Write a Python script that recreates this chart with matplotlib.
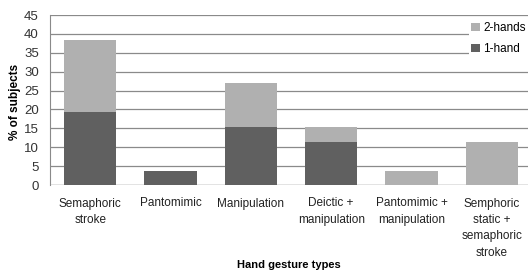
import matplotlib
matplotlib.use("Agg")
import matplotlib.pyplot as plt
import numpy as np

categories = ["Semaphoric\nstroke", "Pantomimic", "Manipulation", "Deictic +\nmanipulation",
              "Pantomimic +\nmanipulation", "Semphoric\nstatic +\nsemaphoric\nstroke"]
one_hand = [19.2, 3.8, 15.4, 11.5, 0.0, 0.0]
two_hands = [19.3, 0.0, 11.5, 3.9, 3.8, 11.5]
yticks = [0, 5, 10, 15, 20, 25, 30, 35, 40, 45]

plt.rcParams['font.family'] = ['Liberation Sans', 'DejaVu Sans']

fig = plt.figure(figsize=(5.28, 2.72), dpi=100)
ax = fig.add_axes([50/528, 1 - 185/272, 478/528, 170/272])

x = np.arange(len(categories))
w = 0.65
ax.bar(x, one_hand, w, color='#606060', label='1-hand', zorder=3)
ax.bar(x, two_hands, w, bottom=one_hand, color='#b0b0b0', label='2-hands', zorder=3)

ax.set_xlim(-0.5, 5.45)
ax.set_ylim(0, 45)
ax.set_yticks(yticks)
ax.yaxis.grid(True, color='#8a8a8a', linewidth=0.9, zorder=0)
ax.set_axisbelow(True)
for s in ['top', 'right', 'bottom']:
    ax.spines[s].set_visible(False)
ax.spines['left'].set_color('#8a8a8a')
ax.tick_params(axis='y', length=0, labelsize=9.5, colors='#333333', pad=8)
ax.tick_params(axis='x', length=0, labelsize=8.5, colors='#222222', pad=9)
ax.set_xticks(x)
ax.set_xticklabels(categories, linespacing=1.5)
ax.axhline(0, color='#8a8a8a', linewidth=0.9, zorder=2)

fig.text(15/528, 1 - 102/272, '% of subjects', fontsize=8.5, fontweight='bold',
         rotation=90, ha='center', va='center')
fig.text(289/528, 1 - 265/272, 'Hand gesture types', fontsize=8, fontweight='bold',
         ha='center', va='center')

handles, labels = ax.get_legend_handles_labels()
leg = ax.legend(handles[::-1], labels[::-1], loc='upper right', bbox_to_anchor=(1.0, 0.97),
                frameon=True, fontsize=8.5, handlelength=0.7, handleheight=0.7,
                handletextpad=0.3, labelspacing=0.75, borderpad=0.2, borderaxespad=0)
leg.get_frame().set_facecolor('white')
leg.get_frame().set_edgecolor('none')
leg.get_frame().set_alpha(1)

fig.savefig('out.png', dpi=100)
